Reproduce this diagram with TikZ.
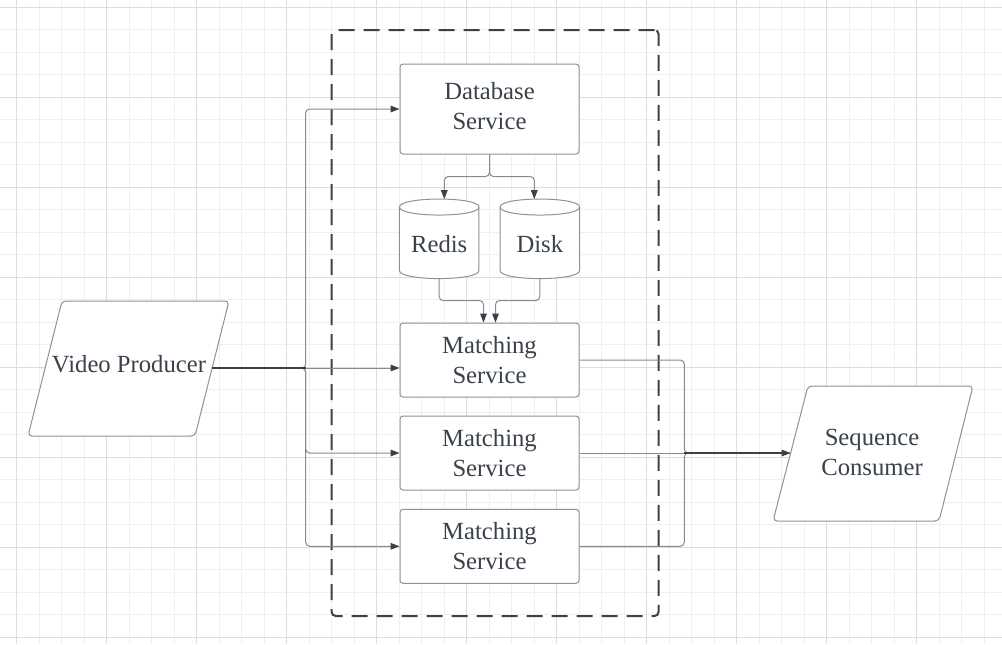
\documentclass[tikz,border=0pt]{standalone}
\usepackage{fontspec}
\setmainfont{Liberation Serif}
\usetikzlibrary{arrows.meta,calc}
\definecolor{ink}{HTML}{3A414A}
\definecolor{edgegray}{HTML}{8E9297}
\definecolor{wire}{HTML}{868B91}
\definecolor{gridminor}{HTML}{EFEFEF}
\definecolor{gridmajor}{HTML}{DDDDDD}
\tikzset{
  lbl/.style={text=ink, font=\fontsize{18.5}{22.5}\selectfont, align=center, inner sep=0pt},
  svc/.style={lbl, draw=edgegray, fill=white, rounded corners=2.25pt, line width=0.75pt, minimum width=134.25pt},
  outline/.style={draw=edgegray, fill=white, line width=0.75pt},
  wirestyle/.style={draw=wire, line width=0.75pt, rounded corners=3pt},
  trunk/.style={draw=ink, line width=0.9pt},
  arr/.style={-{Triangle[length=6.75pt,width=5pt,color=ink,fill=ink]}},
  groupbox/.style={draw=ink, line width=1.5pt, dash pattern=on 12pt off 6.75pt, rounded corners=3pt, inner sep=0pt},
}
\begin{document}
\begin{tikzpicture}[x=0.75pt,y=-0.75pt]
\useasboundingbox (0,0) rectangle (1002,644);
\fill[white] (0,0) rectangle (1002,644);
% grid
\foreach \i in {0,...,44} \draw[gridminor, line width=0.75pt] ({16.7+22.5*\i},0) -- ({16.7+22.5*\i},644);
\foreach \j in {0,...,28} \draw[gridminor, line width=0.75pt] (0,{7.3+22.5*\j}) -- (1002,{7.3+22.5*\j});
\foreach \i in {0,...,11} \draw[gridmajor, line width=0.75pt] ({16.7+90*\i},0) -- ({16.7+90*\i},644);
\foreach \j in {0,...,7} \draw[gridmajor, line width=0.75pt] (0,{7.3+90*\j}) -- (1002,{7.3+90*\j});

% dashed group
\node[groupbox, minimum width=245.1pt, minimum height=439.5pt] (group) at (495.1,323) {};

% services
\node[svc, minimum height=67.5pt] (db) at (489.5,109) {Database\\Service\rule[-4.5pt]{0pt}{0pt}};
\node[svc, minimum height=55.5pt] (m1) at (489.5,360) {Matching\\Service};
\node[svc, minimum height=55.5pt] (m2) at (489.5,453) {Matching\\Service};
\node[svc, minimum height=55.5pt] (m3) at (489.5,546.3) {Matching\\Service};

% cylinders
\node[minimum width=59.25pt, minimum height=59.25pt, inner sep=0pt] (redis) at (439.2,238.8) {};
\node[minimum width=59.25pt, minimum height=59.25pt, inner sep=0pt] (disk) at (539.8,238.8) {};
\foreach \c in {redis,disk}{
  \draw[outline] ($(\c.north west)+(0,8)$) -- ($(\c.south west)+(0,-8)$)
     .. controls +(0,10.67) and +(0,10.67) .. ($(\c.south east)+(0,-8)$)
     -- ($(\c.north east)+(0,8)$)
     .. controls +(0,-10.67) and +(0,-10.67) .. ($(\c.north west)+(0,8)$) -- cycle;
  \draw[outline, fill=none] ($(\c.north west)+(0,8)$)
     .. controls +(0,10.67) and +(0,10.67) .. ($(\c.north east)+(0,8)$);
}
\node[lbl] (redislabel) at ($(redis)+(0,5)$) {Redis};
\node[lbl] (disklabel) at ($(disk)+(0,5)$) {Disk};

% parallelograms
\draw[outline, rounded corners=3pt] (62,301) -- (229,301) -- (195,436) -- (28,436) -- cycle;
\node[lbl] (vp) at (129,364) {Video Producer};
\draw[outline, rounded corners=3pt] (808,386) -- (973,386) -- (939,521) -- (773,521) -- cycle;
\node[lbl] (sc) at (872,452) {Sequence\\Consumer};

\coordinate (vpout) at (212.2,368);
\coordinate (scin) at (790.5,453);
\coordinate (vj) at (305.7,368);
\coordinate (cj) at (684.3,453);

% left connectors
\draw[wirestyle, arr] (vpout) -- (vj) |- (db.west);
\draw[wirestyle, arr] (vpout) -- (vj) |- (m2.west);
\draw[wirestyle, arr] (vpout) -- (vj) |- (m3.west);
\draw[wirestyle, arr] (vpout) -- (m1.west |- vpout);
\draw[trunk] (vpout) -- (vj);

% database to stores
\draw[wirestyle, arr] (db.south) -- ($(db.south)+(0,22)$) -| ($(redis.north)+(5.1,0)$);
\draw[wirestyle, arr] (db.south) -- ($(db.south)+(0,22)$) -| ($(disk.north)+(-5.5,0)$);

% stores to matching
\draw[wirestyle, arr] (redis.south) -- ($(redis.south)+(0,22)$) -| ($(m1.north)+(-6,0)$);
\draw[wirestyle, arr] (disk.south) -- ($(disk.south)+(0,22)$) -| ($(m1.north)+(6,0)$);

% right connectors
\draw[wirestyle] (m1.east) -| (cj) -- (scin);
\draw[wirestyle] (m3.east) -| (cj) -- (scin);
\draw[wirestyle] (m2.east) -- (cj);
\draw[trunk, arr] (cj) -- (scin);
\end{tikzpicture}
\end{document}
